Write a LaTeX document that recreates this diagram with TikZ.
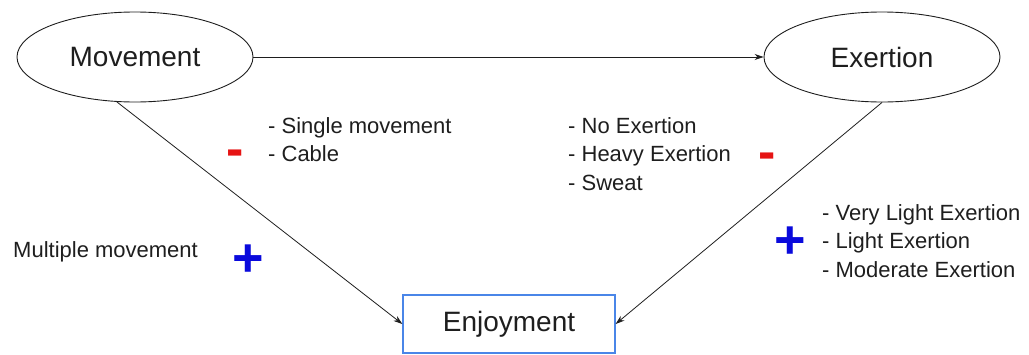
\documentclass[tikz,border=0pt]{standalone}
\usepackage{fontspec}
\setmainfont{Liberation Sans}
\usepackage{tikz}
\usetikzlibrary{positioning,arrows.meta,shapes.geometric}
\definecolor{boxblue}{RGB}{74,134,232}
\definecolor{plusblue}{RGB}{10,10,220}
\definecolor{minusred}{RGB}{230,20,20}
\definecolor{inkgray}{RGB}{30,30,30}

\begin{document}
\begin{tikzpicture}[
	x=1pt, y=-1pt,
	topic/.style={ % ellipse for the factors
		ellipse, draw=inkgray, line width=0.9pt,
		minimum width=236pt, minimum height=90pt,
		font=\fontsize{28}{32}\selectfont, text=inkgray
	},
	result/.style={ % blue box for the outcome
		rectangle, draw=boxblue, line width=1.3pt,
		minimum width=212pt, minimum height=58pt,
		font=\fontsize{28}{32}\selectfont, text=inkgray
	},
	link/.style={ % connector arrows
		-{Stealth[length=9pt,width=6pt]},
		inkgray, line width=0.8pt
	},
	note/.style={ % lists beside the arrows
		anchor=north west, inner sep=0pt, align=left,
		font=\fontsize{22}{28.5}\selectfont, text=inkgray
	},
	minussign/.style={ % red minus
		inner sep=0pt, text=minusred,
		font=\fontsize{52}{52}\selectfont\bfseries
	},
	plussign/.style={ % blue plus
		inner sep=0pt, text=plusblue,
		font=\fontsize{54}{54}\selectfont\bfseries
	}
	]
	\useasboundingbox (0,0) rectangle (1029,354);
	
	% ================= NODES =================
	\node[topic]  (move) at (135,57) {Movement};
	\node[topic]  (exer) at (882,57) {Exertion};
	\node[result] (enj)  at (509,324) {Enjoyment};
	
	% ================= ARROWS =================
	\draw[link] (move.east) -- (exer.west);
	\draw[link] (move.-112) -- (enj.west);
	\draw[link] (exer.south) -- (enj.east);
	
	% ================= LABELS =================
	\node[note] (single) at (268,117) {- Single movement\\- Cable};
	\node[note] (noex)   at (568,117) {- No Exertion\\- Heavy Exertion\\- Sweat};
	\node[note] (multi)  at (13,241)  {Multiple movement};
	\node[note] (light)  at (822,204) {- Very Light Exertion\\- Light Exertion\\- Moderate Exertion};
	
	% signs
	\node[minussign] (m1) at (235,158) {-};
	\node[minussign] (m2) at (767,161) {-};
	\node[plussign]  (p1) at (248,261) {+};
	\node[plussign]  (p2) at (790,243) {+};
	
\end{tikzpicture}
\end{document}
